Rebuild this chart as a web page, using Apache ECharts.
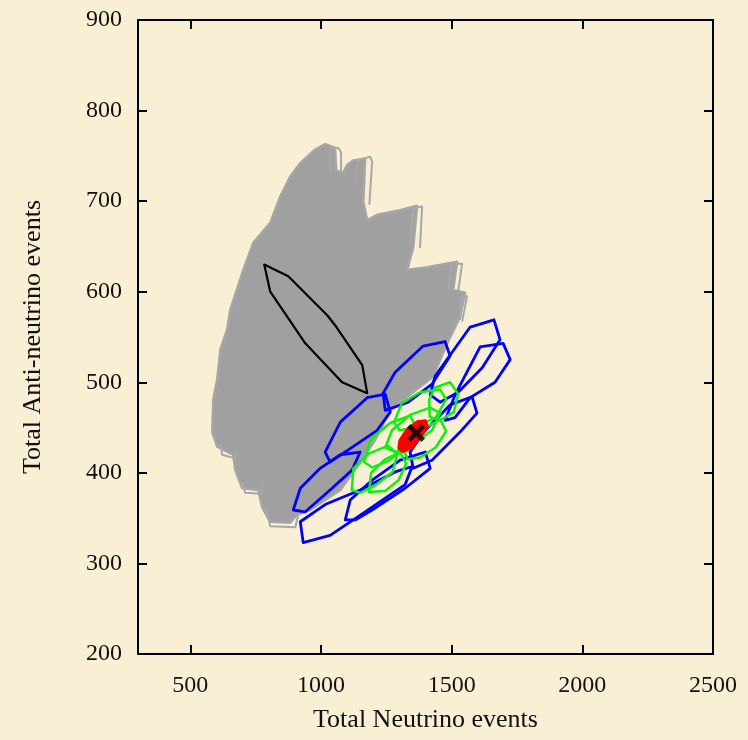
<!DOCTYPE html>
<html>
<head>
<meta charset="utf-8">
<script src="https://cdn.jsdelivr.net/npm/echarts@6/dist/echarts.min.js"></script>
<style>
html,body{margin:0;padding:0;background:#f8efd4;}
#chart{width:748px;height:740px;}
</style>
</head>
<body>
<div id="chart"></div>
<script>
// ---- data ----
const xTickValues = [500, 1000, 1500, 2000, 2500];
const yTickValues = [200, 300, 400, 500, 600, 700, 800, 900];
const xName = 'Total Neutrino events';
const yName = 'Total Anti-neutrino events';

// envelope of the grey family of contours
const grayRegion = [[1016,763],[1054,759],[1058,734],[1085,731],[1100,740],[1123,745],[1169,747],[1162,699],[1177,679],[1215,685],[1303,690],[1368,695],[1353,649],[1330,624],[1406,627],[1521,633],[1506,602],[1552,599],[1532,572],[1483,543],[1429,506],[1330,484],[1265,469],[1207,436],[1139,407],[1074,381],[959,359],[909,354],[882,345],[806,346],[775,362],[760,381],[699,383],[672,403],[664,420],[603,429],[584,445],[588,481],[603,503],[615,536],[641,558],[653,580],[703,624],[741,654],[806,676],[844,705],[882,727],[921,742],[978,757]];

// stacked outline edges of individual grey contours showing past the envelope
const grayEdge1 = [[1035,732],[1035,757],[1066,759],[1077,754],[1077,730]];
const grayEdge2 = [[1131,723],[1142,745],[1188,749],[1196,744],[1185,696]];
const grayEdge3 = [[1341,652],[1353,692],[1387,694],[1379,648]];
const grayEdge4 = [[1487,602],[1502,631],[1540,631],[1525,600]];
const grayEdge5 = [[1532,569],[1540,595],[1559,595],[1540,567]];
const grayEdge6 = [[615,432],[622,420],[672,416],[680,425]];
const grayEdge7 = [[699,390],[710,378],[775,377],[775,387]];
const grayEdge8 = [[791,359],[806,341],[902,340],[913,354]];

const blackContour = [[783,630],[875,617],[1024,574],[1054,563],[1158,519],[1177,488],[1081,500],[940,543],[806,600]];

const blue1 = [[1016,423],[1074,456],[1177,483],[1246,487],[1265,467],[1215,447],[1123,429],[1035,412]];
const blue2 = [[1246,469],[1238,488],[1284,511],[1391,540],[1475,545],[1494,529],[1425,498],[1334,478]];
const blue3 = [[1418,486],[1437,507],[1571,561],[1662,569],[1685,547],[1617,516],[1525,489],[1456,478]];
const blue4 = [[1475,458],[1513,486],[1609,539],[1697,543],[1724,525],[1666,500],[1571,483],[1513,461]];
const blue5 = [[1353,405],[1341,423],[1399,447],[1494,475],[1578,484],[1597,466],[1532,445],[1425,414]];
const blue6 = [[894,359],[921,383],[997,405],[1074,420],[1150,423],[1119,403],[1035,381],[940,357]];
const blue7 = [[932,323],[921,346],[1016,365],[1150,381],[1284,401],[1349,407],[1322,387],[1169,357],[1035,331]];
const blue8 = [[1093,348],[1112,370],[1196,392],[1303,414],[1399,423],[1418,405],[1322,383],[1207,361],[1131,348]];

const green1 = [[1118,381],[1124,405],[1181,421],[1257,430],[1292,421],[1274,401],[1207,386],[1150,378]];
const green2 = [[1165,412],[1192,438],[1265,455],[1341,463],[1364,450],[1324,428],[1257,413],[1196,406]];
const green3 = [[1280,456],[1309,477],[1379,489],[1456,492],[1479,481],[1439,461],[1360,450],[1301,447]];
const green4 = [[1414,481],[1435,494],[1494,500],[1525,487],[1508,467],[1456,458],[1416,462]];
const green5 = [[1320,423],[1339,444],[1399,450],[1456,459],[1479,446],[1439,428],[1379,417],[1332,415]];
const green6 = [[1184,379],[1192,400],[1246,415],[1303,423],[1326,410],[1297,392],[1246,380]];
const green7 = [[1246,428],[1272,447],[1341,464],[1418,472],[1456,466],[1425,447],[1349,431],[1284,423]];

const redRegion = [[1300,436],[1328,448],[1368,457],[1401,458],[1409,451],[1381,439],[1349,427],[1312,423],[1296,427]];

const bestFit = [[1364,444]];

// ---- styles ----
const FONT = '"Liberation Serif", "DejaVu Serif", serif';
const BG = '#f8efd4';

function shapeSeries(name, pts, shapeType, style, z) {
  return {
    name: name,
    type: 'custom',
    coordinateSystem: 'cartesian2d',
    z: z,
    silent: true,
    data: pts,
    encode: { x: 0, y: 1 },
    renderItem: function (params, api) {
      if (params.dataIndex !== 0) return null;
      const points = pts.map(function (p) { return api.coord(p); });
      return { type: shapeType, shape: { points: points }, style: style };
    }
  };
}

const lineStyle = (c, w) => ({ fill: 'none', stroke: c, lineWidth: w, lineJoin: 'round' });

const series = [
  shapeSeries('grey', grayRegion, 'polygon', { fill: '#a0a0a0', stroke: '#a6a6a6', lineWidth: 2.5, lineJoin: 'round' }, 1)
];
[grayEdge1, grayEdge2, grayEdge3, grayEdge4, grayEdge5, grayEdge6, grayEdge7, grayEdge8].forEach(function (g, i) {
  series.push(shapeSeries('greyEdge' + i, g, 'polyline', lineStyle('#a8a8a8', 2), 1));
});
series.push(shapeSeries('black', blackContour, 'polygon', lineStyle('#000000', 2.2), 2));
[blue1, blue2, blue3, blue4, blue5, blue6, blue7, blue8].forEach(function (b, i) {
  series.push(shapeSeries('blue' + i, b, 'polygon', lineStyle('#0000ff', 2.8), 3));
});
[green1, green2, green3, green4, green5, green6, green7].forEach(function (g, i) {
  series.push(shapeSeries('green' + i, g, 'polygon', lineStyle('#11ee11', 2.5), 4));
});
series.push(shapeSeries('red', redRegion, 'polygon', { fill: '#ff0000', stroke: '#ff0000', lineWidth: 2, lineJoin: 'round' }, 5));
series.push({
  type: 'scatter',
  z: 6,
  silent: true,
  data: bestFit,
  symbol: 'path://M0,2 L2,0 L5,3 L8,0 L10,2 L7,5 L10,8 L8,10 L5,7 L2,10 L0,8 L3,5 Z',
  symbolSize: 18,
  itemStyle: { color: '#000000' }
});

const axisLineStyle = { show: true, lineStyle: { color: '#000', width: 2 } };
const tickStyle = (vals) => ({ show: true, inside: true, length: 9, customValues: vals, lineStyle: { color: '#000', width: 2 } });
const plain = (v) => String(v);

const option = {
  backgroundColor: BG,
  animation: false,
  grid: { left: 138, right: 35, top: 20, bottom: 86, show: false },
  xAxis: [
    {
      type: 'value', position: 'bottom', min: 300, max: 2500,
      name: xName, nameLocation: 'middle', nameGap: 53,
      nameTextStyle: { fontFamily: FONT, fontSize: 26, color: '#111' },
      axisLine: axisLineStyle,
      axisTick: tickStyle(xTickValues),
      axisLabel: { customValues: xTickValues, formatter: plain, fontFamily: FONT, fontSize: 24, color: '#111', margin: 20 },
      splitLine: { show: false }
    },
    {
      type: 'value', position: 'top', min: 300, max: 2500,
      axisLine: axisLineStyle,
      axisTick: tickStyle(xTickValues),
      axisLabel: { show: false, customValues: xTickValues },
      splitLine: { show: false }
    }
  ],
  yAxis: [
    {
      type: 'value', position: 'left', min: 200, max: 900, interval: 100,
      name: yName, nameLocation: 'middle', nameGap: 92, nameRotate: 90,
      nameTextStyle: { fontFamily: FONT, fontSize: 26, color: '#111' },
      axisLine: axisLineStyle,
      axisTick: tickStyle(yTickValues),
      axisLabel: { customValues: yTickValues, formatter: plain, fontFamily: FONT, fontSize: 24, color: '#111', margin: 16 },
      splitLine: { show: false }
    },
    {
      type: 'value', position: 'right', min: 200, max: 900, interval: 100,
      axisLine: axisLineStyle,
      axisTick: tickStyle(yTickValues),
      axisLabel: { show: false },
      splitLine: { show: false }
    }
  ],
  series: series
};

const chart = echarts.init(document.getElementById('chart'), null, { renderer: 'canvas' });
chart.setOption(option);
</script>
</body>
</html>
